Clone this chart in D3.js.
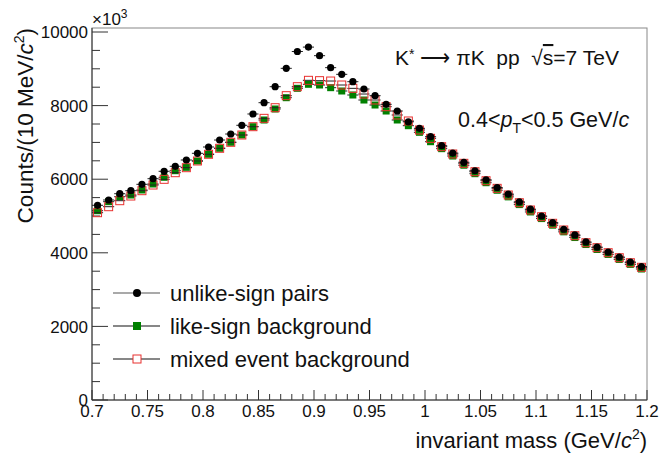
<!DOCTYPE html>
<html>
<head>
<meta charset="utf-8">
<script src="https://cdn.jsdelivr.net/npm/d3@7"></script>
<style>
  body { margin: 0; background: #fff; }
  text { font-family: "Liberation Sans", Arial, sans-serif; fill: #111; }
</style>
</head>
<body>
<div id="chart"></div>
<script>
// bin centres, 10 MeV bins from 0.7 to 1.2 GeV/c^2
var mass = d3.range(50).map(i => +(0.705 + i * 0.01).toFixed(3));

// counts (x10^3 on the axis label)
var unlike = [5291, 5435, 5606, 5688, 5861, 6014, 6215, 6351, 6522, 6704,
  6875, 7065, 7228, 7465, 7772, 8079, 8514, 9013, 9470, 9590,
  9357, 9031, 8850, 8650, 8451, 8270, 8035, 7853, 7560, 7383,
  7155, 6910, 6710, 6460, 6230, 5985, 5775, 5595, 5385, 5185,
  5000, 4820, 4640, 4485, 4295, 4155, 4020, 3885, 3750, 3625];
var likeSign = [5144, 5389, 5524, 5571, 5707, 5870, 6052, 6231, 6323, 6495,
  6677, 6840, 7003, 7201, 7427, 7609, 7908, 8215, 8470, 8579,
  8560, 8487, 8397, 8288, 8152, 8016, 7853, 7609, 7454, 7274,
  7019, 6830, 6630, 6380, 6150, 5905, 5700, 5520, 5310, 5110,
  4930, 4750, 4570, 4415, 4225, 4090, 3955, 3820, 3685, 3560];
var mixed = [5090, 5253, 5416, 5543, 5688, 5842, 5997, 6177, 6313, 6495,
  6677, 6840, 7003, 7201, 7427, 7654, 7943, 8270, 8514, 8687,
  8678, 8668, 8560, 8469, 8315, 8152, 7971, 7745, 7582, 7337,
  7111, 6884, 6685, 6432, 6204, 5959, 5752, 5571, 5361, 5163,
  4981, 4802, 4620, 4465, 4274, 4139, 4003, 3867, 3731, 3606];

var xTicks = [0.7, 0.75, 0.8, 0.85, 0.9, 0.95, 1, 1.05, 1.1, 1.15, 1.2];
var yTicks = [0, 2000, 4000, 6000, 8000, 10000];
var legendNames = ["unlike-sign pairs", "like-sign background", "mixed event background"];

var width = 663, height = 458;
// frame edges (note: "top" is reserved on window, so use pad*)
var padL = 92, padR = 647, padT = 28, padB = 400;

var svg = d3.select("#chart").append("svg")
  .attr("width", width)
  .attr("height", height);

var x = d3.scaleLinear().domain([0.7, 1.2]).range([padL, padR]);
var y = d3.scaleLinear().domain([0, 10109]).range([padB, padT]);

// frame
svg.append("rect")
  .attr("x", padL).attr("y", padT)
  .attr("width", padR - padL).attr("height", padB - padT)
  .attr("fill", "none").attr("stroke", "#888").attr("stroke-width", 1);

// x axis ticks: majors every 0.05, minors every 0.01
var xMinor = d3.range(0, 51).map(i => 0.7 + i * 0.01);
svg.append("g").selectAll("line")
  .data(xMinor)
  .join("line")
    .attr("x1", d => x(d)).attr("x2", d => x(d))
    .attr("y1", padB)
    .attr("y2", (d, i) => i % 5 == 0 ? padB - 10 : padB - 6)
    .attr("stroke", "#333");
svg.append("line")
  .attr("x1", padL).attr("x2", padR).attr("y1", padB).attr("y2", padB)
  .attr("stroke", "#333");

svg.append("g")
  .attr("font-size", 17)
  .attr("text-anchor", "middle")
  .selectAll("text")
  .data(xTicks)
  .join("text")
    .attr("x", d => x(d))
    .attr("y", 417)
    .text(d => d);

// y axis ticks: majors every 2000, minors every 500
var yMinor = d3.range(0, 21).map(i => i * 500);
svg.append("g").selectAll("line")
  .data(yMinor)
  .join("line")
    .attr("x1", padL)
    .attr("x2", (d, i) => i % 4 == 0 ? padL + 16 : padL + 8)
    .attr("y1", d => y(d)).attr("y2", d => y(d))
    .attr("stroke", "#333");
svg.append("line")
  .attr("x1", padL).attr("x2", padL).attr("y1", padT).attr("y2", padB)
  .attr("stroke", "#333");

svg.append("g")
  .attr("font-size", 17)
  .attr("text-anchor", "end")
  .selectAll("text")
  .data(yTicks)
  .join("text")
    .attr("x", padL - 4)
    .attr("y", d => y(d))
    .attr("dy", "0.36em")
    .text(d => d);

// x10^3 multiplier
var mult = svg.append("text").attr("x", padL).attr("y", 25).attr("font-size", 17);
mult.append("tspan").text("×10");
mult.append("tspan").attr("font-size", 12).attr("dy", -7).text("3");

// axis titles
var xt = svg.append("text")
  .attr("x", padR).attr("y", 448)
  .attr("text-anchor", "end")
  .attr("font-size", 22);
xt.append("tspan").text("invariant mass (GeV/");
xt.append("tspan").attr("font-style", "italic").text("c");
xt.append("tspan").attr("font-size", 14).attr("dy", -9).text("2");
xt.append("tspan").attr("dy", 9).text(")");

var yt = svg.append("text")
  .attr("transform", "translate(33," + padT + ") rotate(-90)")
  .attr("text-anchor", "end")
  .attr("font-size", 22.5);
yt.append("tspan").text("Counts/(10 MeV/");
yt.append("tspan").attr("font-style", "italic").text("c");
yt.append("tspan").attr("font-size", 14).attr("dy", -9).text("2");
yt.append("tspan").attr("dy", 9).text(")");

// data
var half = (x(0.71) - x(0.7)) / 2;

function errBars(vals) {
  svg.append("g").selectAll("line")
    .data(vals)
    .join("line")
      .attr("x1", (d, i) => x(mass[i]) - half)
      .attr("x2", (d, i) => x(mass[i]) + half)
      .attr("y1", d => y(d)).attr("y2", d => y(d))
      .attr("stroke", "#222").attr("stroke-width", 1);
}

errBars(likeSign);
svg.append("g").selectAll("rect")
  .data(likeSign)
  .join("rect")
    .attr("x", (d, i) => x(mass[i]) - 3.5)
    .attr("y", d => y(d) - 3.5)
    .attr("width", 7).attr("height", 7)
    .attr("fill", "#008000");

errBars(mixed);
svg.append("g").selectAll("rect")
  .data(mixed)
  .join("rect")
    .attr("x", (d, i) => x(mass[i]) - 4)
    .attr("y", d => y(d) - 4)
    .attr("width", 8).attr("height", 8)
    .attr("fill", "none")
    .attr("stroke", "#e8312f").attr("stroke-width", 1);

errBars(unlike);
svg.append("g").selectAll("circle")
  .data(unlike)
  .join("circle")
    .attr("cx", (d, i) => x(mass[i]))
    .attr("cy", d => y(d))
    .attr("r", 3.6)
    .attr("fill", "#000");

// legend
var leg = svg.append("g").attr("font-size", 22);
var legY = [293, 326, 359];
legendNames.forEach(function(name, i) {
  leg.append("line")
    .attr("x1", 113).attr("x2", 160)
    .attr("y1", legY[i]).attr("y2", legY[i])
    .attr("stroke", i == 0 ? "#555" : "#111").attr("stroke-width", 1.2);
  if (i == 0) {
    leg.append("circle").attr("cx", 137).attr("cy", legY[i]).attr("r", 4).attr("fill", "#000");
  } else if (i == 1) {
    leg.append("rect").attr("x", 133).attr("y", legY[i] - 4).attr("width", 8).attr("height", 8).attr("fill", "#008000");
  } else {
    leg.append("rect").attr("x", 133).attr("y", legY[i] - 4).attr("width", 8).attr("height", 8)
      .attr("fill", "#fff").attr("stroke", "#e8312f");
  }
  leg.append("text")
    .attr("x", 170).attr("y", legY[i])
    .attr("dy", "0.35em")
    .text(name);
});

// annotation
var t1 = svg.append("text").attr("x", 395).attr("y", 65).attr("font-size", 21)
  .style("white-space", "pre");
t1.append("tspan").text("K");
t1.append("tspan").attr("font-size", 14).attr("dy", -6).text("*");
t1.append("tspan").attr("dy", 6).text(" ⟶ πK  pp  √");
t1.append("tspan").attr("text-decoration", "overline").text("s");
t1.append("tspan").text("=7 TeV");

var t2 = svg.append("text").attr("x", 458).attr("y", 127).attr("font-size", 21.5);
t2.append("tspan").text("0.4<");
t2.append("tspan").attr("font-style", "italic").text("p");
t2.append("tspan").attr("font-size", 14).attr("dy", 6).text("T");
t2.append("tspan").attr("dy", -6).text("<0.5 GeV/");
t2.append("tspan").attr("font-style", "italic").text("c");
</script>
</body>
</html>
